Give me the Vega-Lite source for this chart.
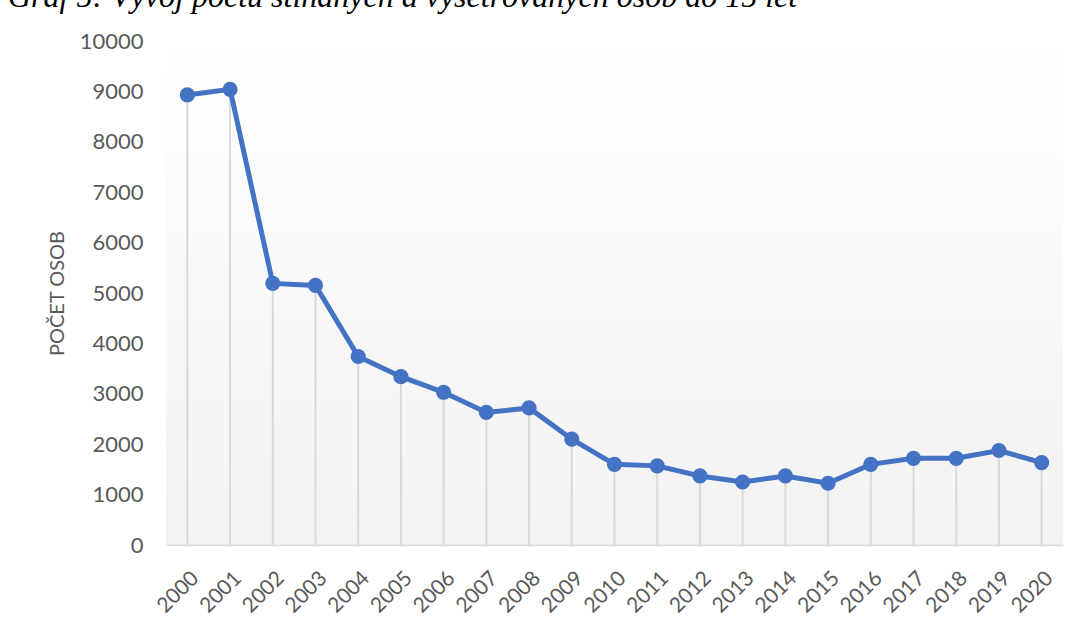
{
  "$schema": "https://vega.github.io/schema/vega-lite/v6.json",
  "width": 897,
  "height": 504,
  "autosize": {"type": "none"},
  "padding": {"left": 166, "top": 41, "right": 16, "bottom": 81},
  "background": "#ffffff",
  "title": {
    "text": "Graf 5: Vývoj počtu stíhaných a vyšetřovaných osob do 15 let",
    "anchor": "start",
    "frame": "group",
    "orient": "top",
    "font": "Liberation Serif",
    "fontStyle": "italic",
    "fontWeight": "normal",
    "fontSize": 32,
    "color": "#000000",
    "baseline": "alphabetic",
    "offset": -9,
    "dx": -158
  },
  "config": {
    "view": {
      "stroke": null,
      "fill": {
        "gradient": "linear",
        "x1": 0, "y1": 0, "x2": 0, "y2": 1,
        "stops": [
          {"offset": 0, "color": "#ffffff"},
          {"offset": 0.12, "color": "#fefefe"},
          {"offset": 1, "color": "#f2f2f2"}
        ]
      }
    },
    "axis": {
      "labelFont": "Lato",
      "labelColor": "#595959",
      "titleFont": "Lato",
      "titleColor": "#595959"
    }
  },
  "data": {
    "values": [
      {"rok": "2000", "pocet": 8930},
      {"rok": "2001", "pocet": 9040},
      {"rok": "2002", "pocet": 5190},
      {"rok": "2003", "pocet": 5150},
      {"rok": "2004", "pocet": 3740},
      {"rok": "2005", "pocet": 3340},
      {"rok": "2006", "pocet": 3030},
      {"rok": "2007", "pocet": 2630},
      {"rok": "2008", "pocet": 2720},
      {"rok": "2009", "pocet": 2100},
      {"rok": "2010", "pocet": 1600},
      {"rok": "2011", "pocet": 1570},
      {"rok": "2012", "pocet": 1370},
      {"rok": "2013", "pocet": 1250},
      {"rok": "2014", "pocet": 1370},
      {"rok": "2015", "pocet": 1225},
      {"rok": "2016", "pocet": 1600},
      {"rok": "2017", "pocet": 1720},
      {"rok": "2018", "pocet": 1720},
      {"rok": "2019", "pocet": 1875},
      {"rok": "2020", "pocet": 1635}
    ]
  },
  "encoding": {
    "x": {
      "field": "rok",
      "type": "ordinal",
      "scale": {"type": "point", "padding": 0.5},
      "axis": {
        "title": null,
        "labelAngle": -45,
        "labelFontSize": 21,
        "labelPadding": 22,
        "ticks": false,
        "domainColor": "#d9d9d9",
        "domainWidth": 1.5,
        "grid": false
      }
    },
    "y": {
      "field": "pocet",
      "type": "quantitative",
      "scale": {"domain": [0, 10000], "nice": false},
      "axis": {
        "title": "POČET OSOB",
        "titleFontSize": 20,
        "titleFontWeight": "normal",
        "titlePadding": 12,
        "format": "d",
        "values": [0, 1000, 2000, 3000, 4000, 5000, 6000, 7000, 8000, 9000, 10000],
        "labelFontSize": 22,
        "labelPadding": 23,
        "domain": false,
        "ticks": false,
        "grid": false
      }
    }
  },
  "layer": [
    {
      "mark": {"type": "rule", "color": "#d9d9d9", "strokeWidth": 2},
      "encoding": {"y2": {"datum": 0}}
    },
    {
      "mark": {"type": "line", "color": "#4472C4", "strokeWidth": 5}
    },
    {
      "mark": {"type": "point", "filled": true, "opacity": 1, "color": "#4472C4", "size": 230, "shape": "circle"}
    }
  ]
}
